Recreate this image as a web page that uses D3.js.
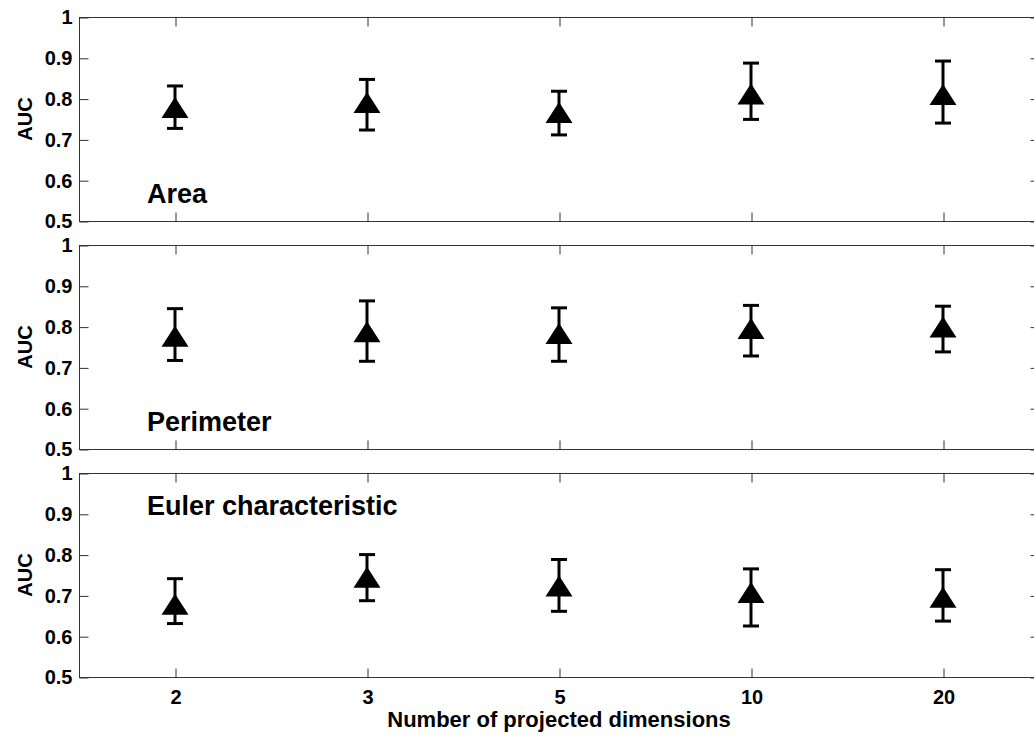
<!DOCTYPE html>
<html>
<head>
<meta charset="utf-8">
<script src="https://cdn.jsdelivr.net/npm/d3@7"></script>
<style>
  body { margin: 0; background: #fff; }
  svg { display: block; font-family: "Liberation Sans", Arial, Helvetica, sans-serif; }
</style>
</head>
<body>
<div class="chart"></div>
<script>
// values
const dims = ["2", "3", "5", "10", "20"];
const panelNames = ["Area", "Perimeter", "Euler characteristic"];
const yTicks = [0.5, 0.6, 0.7, 0.8, 0.9, 1];

const areaMean  = [0.777, 0.789, 0.765, 0.810, 0.809];
const areaLow   = [0.727, 0.723, 0.711, 0.749, 0.740];
const areaHigh  = [0.831, 0.847, 0.818, 0.887, 0.892];

const perimMean = [0.775, 0.786, 0.782, 0.794, 0.798];
const perimLow  = [0.717, 0.715, 0.715, 0.728, 0.738];
const perimHigh = [0.844, 0.863, 0.846, 0.852, 0.850];

const eulerMean = [0.677, 0.743, 0.722, 0.706, 0.694];
const eulerLow  = [0.631, 0.687, 0.661, 0.625, 0.637];
const eulerHigh = [0.741, 0.800, 0.788, 0.765, 0.763];

const width = 1034, height = 737;
const left = 79, right = 1039;
const panelTops = [17, 245, 473];
const panelH = 204;
const axisColor = "#333";

const panels = [
  { name: panelNames[0], mean: areaMean,  low: areaLow,  high: areaHigh,  labelPos: "bottom" },
  { name: panelNames[1], mean: perimMean, low: perimLow, high: perimHigh, labelPos: "bottom" },
  { name: panelNames[2], mean: eulerMean, low: eulerLow, high: eulerHigh, labelPos: "top" }
];

const svg = d3.select(".chart")
              .append("svg")
              .attr("width", width)
              .attr("height", height);

svg.append("rect")
   .attr("width", width)
   .attr("height", height)
   .attr("fill", "#fff");

const x = d3.scalePoint()
            .domain(dims)
            .range([left, right])
            .padding(0.5);

const fmt = d => d === 1 ? "1" : d3.format(".1f")(d);

function styleAxis(g) {
  g.select(".domain").remove();
  g.selectAll(".tick line").attr("stroke", axisColor);
  g.selectAll(".tick text")
   .attr("fill", "#000")
   .attr("font-size", 20)
   .attr("font-weight", "bold")
   .attr("font-family", "'Liberation Sans', Arial, Helvetica, sans-serif");
}

panels.forEach((p, i) => {
  const top = panelTops[i];
  const bottom = top + panelH;
  const isLast = i === panels.length - 1;

  const y = d3.scaleLinear()
              .domain([0.5, 1])
              .range([bottom, top]);

  const g = svg.append("g").attr("class", "panel");

  // box
  g.append("rect")
   .attr("x", left + 0.5)
   .attr("y", top + 0.5)
   .attr("width", right - left)
   .attr("height", panelH)
   .attr("fill", "none")
   .attr("stroke", axisColor)
   .attr("stroke-width", 1);

  g.append("g")
   .attr("transform", "translate(" + (left + 0.5) + ",0.5)")
   .call(d3.axisLeft(y).tickValues(yTicks).tickFormat(fmt)
           .tickSizeInner(-9).tickSizeOuter(0).tickPadding(7))
   .call(styleAxis);

  g.append("g")
   .attr("transform", "translate(" + (right + 0.5) + ",0.5)")
   .call(d3.axisRight(y).tickValues(yTicks).tickFormat("")
           .tickSizeInner(-9).tickSizeOuter(0))
   .call(styleAxis);

  g.append("g")
   .attr("transform", "translate(0.5," + (bottom + 0.5) + ")")
   .call(d3.axisBottom(x).tickFormat(isLast ? null : () => "")
           .tickSizeInner(-9).tickSizeOuter(0).tickPadding(12))
   .call(styleAxis);

  g.append("g")
   .attr("transform", "translate(0.5," + (top + 0.5) + ")")
   .call(d3.axisTop(x).tickFormat("")
           .tickSizeInner(-9).tickSizeOuter(0))
   .call(styleAxis);

  // y label
  g.append("text")
   .text("AUC")
   .attr("transform", "translate(32," + ((top + bottom) / 2) + ") rotate(-90)")
   .attr("text-anchor", "middle")
   .attr("font-size", 20)
   .attr("font-weight", "bold");

  // panel title
  g.append("text")
   .text(p.name)
   .attr("x", 147)
   .attr("y", p.labelPos === "bottom" ? bottom - 18 : top + 42)
   .attr("font-size", 27)
   .attr("font-weight", "bold");

  const rows = dims.map((d, j) => ({ d: d, m: p.mean[j], lo: p.low[j], hi: p.high[j] }));

  // error bars
  const eb = g.selectAll(".eb")
              .data(rows).enter()
              .append("g")
              .attr("class", "eb")
              .attr("stroke", "#000")
              .attr("stroke-width", 3);

  eb.append("line")
    .attr("x1", r => x(r.d)).attr("x2", r => x(r.d))
    .attr("y1", r => y(r.lo)).attr("y2", r => y(r.hi));

  eb.append("line")
    .attr("x1", r => x(r.d) - 8).attr("x2", r => x(r.d) + 8)
    .attr("y1", r => y(r.hi)).attr("y2", r => y(r.hi));

  eb.append("line")
    .attr("x1", r => x(r.d) - 8).attr("x2", r => x(r.d) + 8)
    .attr("y1", r => y(r.lo)).attr("y2", r => y(r.lo));

  // triangle markers
  g.selectAll(".mk")
   .data(rows).enter()
   .append("path")
   .attr("class", "mk")
   .attr("d", r => {
     const cx = x(r.d), cy = y(r.m);
     return "M" + cx + "," + (cy - 11) + "L" + (cx + 13.5) + "," + (cy + 10) +
            "L" + (cx - 13.5) + "," + (cy + 10) + "Z";
   })
   .attr("fill", "#000");
});

svg.append("text")
   .text("Number of projected dimensions")
   .attr("x", (left + right) / 2)
   .attr("y", 727)
   .attr("text-anchor", "middle")
   .attr("font-size", 22)
   .attr("font-weight", "bold");
</script>
</body>
</html>
